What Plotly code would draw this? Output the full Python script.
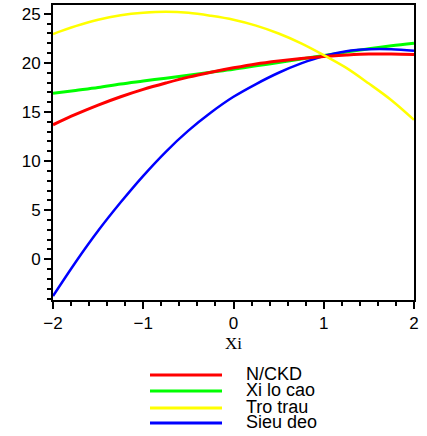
import plotly.graph_objects as go

# ---- data ----
xi = [-2.0, -1.75, -1.5, -1.25, -1.0, -0.75, -0.5, -0.25, 0.0,
      0.25, 0.5, 0.75, 1.0, 1.25, 1.5, 1.75, 2.0]

nckd = [13.7, 14.75, 15.7, 16.55, 17.3, 17.95, 18.55, 19.05, 19.5,
        19.9, 20.2, 20.45, 20.65, 20.8, 20.9, 20.9, 20.85]
xi_lo_cao = [16.9, 17.2, 17.5, 17.85, 18.15, 18.45, 18.75, 19.05, 19.35,
             19.7, 20.05, 20.4, 20.75, 21.1, 21.45, 21.75, 22.0]
tro_trau = [22.95, 23.75, 24.4, 24.85, 25.1, 25.2, 25.1, 24.8, 24.4,
            23.8, 23.0, 22.0, 20.8, 19.5, 17.9, 16.2, 14.2]
sieu_deo = [-3.75, -0.3, 2.9, 5.8, 8.5, 10.95, 13.1, 14.95, 16.55,
            17.85, 19.0, 19.95, 20.7, 21.2, 21.4, 21.4, 21.25]

series_names = ["N/CKD", "Xi lo cao", "Tro trau", "Sieu deo"]
series_values = [nckd, xi_lo_cao, tro_trau, sieu_deo]
series_colors = ["#ff0000", "#00ff00", "#ffff00", "#0000ff"]
series_widths = [3, 3, 2.5, 2.5]

x_ticks = [-2, -1, 0, 1, 2]
y_ticks = [0, 5, 10, 15, 20, 25]

fig = go.Figure()
draw_order = [1, 3, 0, 2]
for i in draw_order:
    fig.add_trace(go.Scatter(
        x=xi, y=series_values[i], mode="lines", name=series_names[i],
        line=dict(color=series_colors[i], width=series_widths[i], shape="spline", smoothing=1.0),
        showlegend=False, hoverinfo="skip"))

# manual legend below the plot (as in the original)
W, H = 427, 436
L, R, T, B = 53, 13, 5, 136
pw, ph = W - L - R, H - T - B

def px2paper_x(px):
    return (px - L) / pw

def py2paper_y(py):
    return (H - B - py) / ph

leg_y = [375, 391, 408, 423]
for name, col, yy in zip(series_names, series_colors, leg_y):
    fig.add_shape(type="line", xref="paper", yref="paper",
                  x0=px2paper_x(150), x1=px2paper_x(222),
                  y0=py2paper_y(yy), y1=py2paper_y(yy),
                  line=dict(color=col, width=3))
    fig.add_annotation(text=name, xref="paper", yref="paper",
                       x=px2paper_x(244), y=py2paper_y(yy - 1),
                       xanchor="left", yanchor="middle", showarrow=False,
                       font=dict(family="Liberation Sans", size=18, color="black"))

axis_common = dict(showline=True, linecolor="black", linewidth=2, mirror=True,
                   ticks="outside", ticklen=7, tickwidth=1.5, tickcolor="black",
                   showgrid=False, zeroline=False, automargin=False,
                   tickfont=dict(family="Liberation Sans", size=17, color="black"))

fig.update_layout(
    width=W, height=H,
    margin=dict(l=L, r=R, t=T, b=B),
    paper_bgcolor="white", plot_bgcolor="white",
    xaxis=dict(range=[-2, 2], tickvals=x_ticks, **axis_common,
               minor=dict(dtick=0.2, ticks="outside", ticklen=4, tickcolor="black", tickwidth=1.5),
               title=dict(text="Xi", font=dict(family="Liberation Serif", size=17, color="black"),
                          standoff=5)),
    yaxis=dict(range=[-4.15, 25.9], tickvals=y_ticks, **axis_common,
               minor=dict(dtick=1, ticks="outside", ticklen=4, tickcolor="black", tickwidth=1.5)),
)

fig.write_html("out.html", config={"displayModeBar": False},
               post_script="document.body.style.margin='0';document.body.style.padding='0';")
